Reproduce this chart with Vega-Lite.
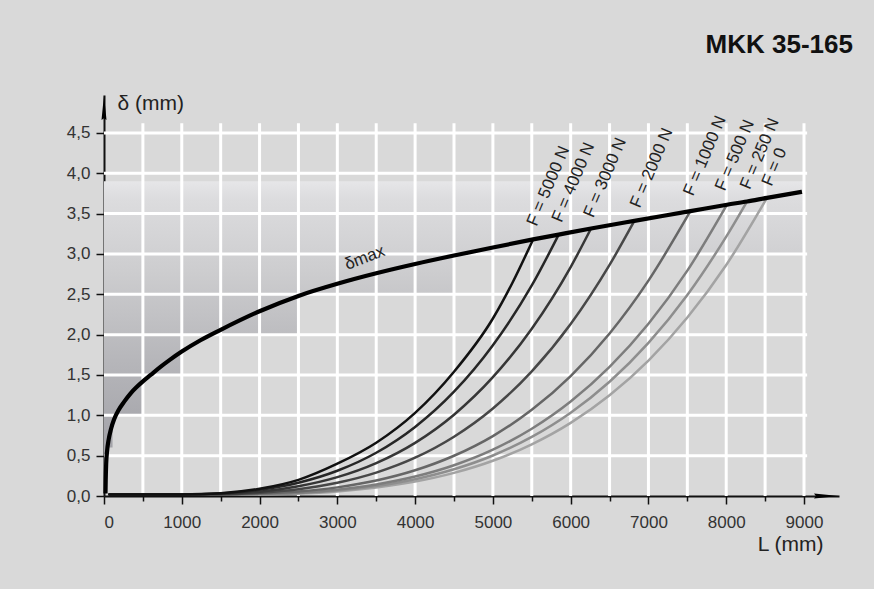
{
  "$schema": "https://vega.github.io/schema/vega-lite/v6.json",
  "width": 735,
  "height": 401,
  "autosize": "none",
  "padding": {"left": 104, "top": 95, "right": 35, "bottom": 93},
  "background": "#d9d9d9",
  "config": {"view": {"stroke": null}, "font": "Liberation Sans"},
  "title": {"text": "MKK 35-165", "anchor": "end", "fontSize": 26, "fontWeight": "bold", "color": "#111111", "offset": 34, "dx": 14, "font": "Liberation Sans"},
  "datasets": {
    "shade": [
      {"L": 0, "d": 3.9, "d2": 0.2},
      {"L": 40, "d": 3.9, "d2": 0.6},
      {"L": 110, "d": 3.9, "d2": 1.0},
      {"L": 500, "d": 3.9, "d2": 1.5},
      {"L": 1000, "d": 3.9, "d2": 2.0},
      {"L": 2500, "d": 3.9, "d2": 2.5},
      {"L": 4500, "d": 3.9, "d2": 3.0},
      {"L": 9000, "d": 3.9, "d2": 3.0}
    ],
    "gridv": [
      {"L": 500, "d": 0, "d2": 4.62}, {"L": 1000, "d": 0, "d2": 4.62}, {"L": 1500, "d": 0, "d2": 4.62},
      {"L": 2000, "d": 0, "d2": 4.62}, {"L": 2500, "d": 0, "d2": 4.62}, {"L": 3000, "d": 0, "d2": 4.62},
      {"L": 3500, "d": 0, "d2": 4.62}, {"L": 4000, "d": 0, "d2": 4.62}, {"L": 4500, "d": 0, "d2": 4.62},
      {"L": 5000, "d": 0, "d2": 4.62}, {"L": 5500, "d": 0, "d2": 4.62}, {"L": 6000, "d": 0, "d2": 4.62},
      {"L": 6500, "d": 0, "d2": 4.62}, {"L": 7000, "d": 0, "d2": 4.62}, {"L": 7500, "d": 0, "d2": 4.62},
      {"L": 8000, "d": 0, "d2": 4.62}, {"L": 8500, "d": 0, "d2": 4.62}, {"L": 9000, "d": 0, "d2": 4.62}
    ],
    "gridh": [
      {"L": 0, "L2": 9040, "d": 0.5}, {"L": 0, "L2": 9040, "d": 1.0}, {"L": 0, "L2": 9040, "d": 1.5},
      {"L": 0, "L2": 9040, "d": 2.0}, {"L": 0, "L2": 9040, "d": 2.5}, {"L": 0, "L2": 9040, "d": 3.0},
      {"L": 0, "L2": 9040, "d": 3.5}, {"L": 0, "L2": 9040, "d": 4.0}, {"L": 0, "L2": 9040, "d": 4.5}
    ],
    "curves": [
      {"F": "F = 0", "L": 70, "d": 0.02}, {"F": "F = 0", "L": 2000, "d": 0.02}, {"F": "F = 0", "L": 2500, "d": 0.03},
      {"F": "F = 0", "L": 3000, "d": 0.057}, {"F": "F = 0", "L": 3500, "d": 0.105}, {"F": "F = 0", "L": 4000, "d": 0.179},
      {"F": "F = 0", "L": 4500, "d": 0.287}, {"F": "F = 0", "L": 5000, "d": 0.437}, {"F": "F = 0", "L": 5500, "d": 0.64},
      {"F": "F = 0", "L": 6000, "d": 0.906}, {"F": "F = 0", "L": 6500, "d": 1.248}, {"F": "F = 0", "L": 7000, "d": 1.678},
      {"F": "F = 0", "L": 7500, "d": 2.212}, {"F": "F = 0", "L": 8000, "d": 2.863}, {"F": "F = 0", "L": 8524, "d": 3.695},

      {"F": "F = 250 N", "L": 70, "d": 0.02}, {"F": "F = 250 N", "L": 2000, "d": 0.022}, {"F": "F = 250 N", "L": 2500, "d": 0.035},
      {"F": "F = 250 N", "L": 3000, "d": 0.067}, {"F": "F = 250 N", "L": 3500, "d": 0.123}, {"F": "F = 250 N", "L": 4000, "d": 0.208},
      {"F": "F = 250 N", "L": 4500, "d": 0.331}, {"F": "F = 250 N", "L": 5000, "d": 0.502}, {"F": "F = 250 N", "L": 5500, "d": 0.732},
      {"F": "F = 250 N", "L": 6000, "d": 1.032}, {"F": "F = 250 N", "L": 6500, "d": 1.416}, {"F": "F = 250 N", "L": 7000, "d": 1.897},
      {"F": "F = 250 N", "L": 7500, "d": 2.491}, {"F": "F = 250 N", "L": 8000, "d": 3.215}, {"F": "F = 250 N", "L": 8267, "d": 3.65},

      {"F": "F = 500 N", "L": 70, "d": 0.02}, {"F": "F = 500 N", "L": 2000, "d": 0.025}, {"F": "F = 500 N", "L": 2500, "d": 0.04},
      {"F": "F = 500 N", "L": 3000, "d": 0.078}, {"F": "F = 500 N", "L": 3500, "d": 0.143}, {"F": "F = 500 N", "L": 4000, "d": 0.241},
      {"F": "F = 500 N", "L": 4500, "d": 0.381}, {"F": "F = 500 N", "L": 5000, "d": 0.574}, {"F": "F = 500 N", "L": 5500, "d": 0.833},
      {"F": "F = 500 N", "L": 6000, "d": 1.17}, {"F": "F = 500 N", "L": 6500, "d": 1.599}, {"F": "F = 500 N", "L": 7000, "d": 2.134},
      {"F": "F = 500 N", "L": 7500, "d": 2.793}, {"F": "F = 500 N", "L": 8010, "d": 3.61},

      {"F": "F = 1000 N", "L": 70, "d": 0.02}, {"F": "F = 1000 N", "L": 1500, "d": 0.02}, {"F": "F = 1000 N", "L": 2000, "d": 0.03},
      {"F": "F = 1000 N", "L": 2500, "d": 0.055}, {"F": "F = 1000 N", "L": 3000, "d": 0.107}, {"F": "F = 1000 N", "L": 3500, "d": 0.192},
      {"F": "F = 1000 N", "L": 4000, "d": 0.319}, {"F": "F = 1000 N", "L": 4500, "d": 0.499}, {"F": "F = 1000 N", "L": 5000, "d": 0.743},
      {"F": "F = 1000 N", "L": 5500, "d": 1.068}, {"F": "F = 1000 N", "L": 6000, "d": 1.487}, {"F": "F = 1000 N", "L": 6500, "d": 2.015},
      {"F": "F = 1000 N", "L": 7000, "d": 2.67}, {"F": "F = 1000 N", "L": 7539, "d": 3.53},

      {"F": "F = 2000 N", "L": 70, "d": 0.02}, {"F": "F = 2000 N", "L": 1500, "d": 0.022}, {"F": "F = 2000 N", "L": 2000, "d": 0.04},
      {"F": "F = 2000 N", "L": 2500, "d": 0.083}, {"F": "F = 2000 N", "L": 3000, "d": 0.164}, {"F": "F = 2000 N", "L": 3500, "d": 0.29},
      {"F": "F = 2000 N", "L": 4000, "d": 0.475}, {"F": "F = 2000 N", "L": 4500, "d": 0.735}, {"F": "F = 2000 N", "L": 5000, "d": 1.085},
      {"F": "F = 2000 N", "L": 5500, "d": 1.544}, {"F": "F = 2000 N", "L": 6000, "d": 2.131}, {"F": "F = 2000 N", "L": 6500, "d": 2.864},
      {"F": "F = 2000 N", "L": 6819, "d": 3.41},

      {"F": "F = 3000 N", "L": 70, "d": 0.02}, {"F": "F = 3000 N", "L": 1000, "d": 0.02}, {"F": "F = 3000 N", "L": 1500, "d": 0.025},
      {"F": "F = 3000 N", "L": 2000, "d": 0.054}, {"F": "F = 3000 N", "L": 2500, "d": 0.121}, {"F": "F = 3000 N", "L": 3000, "d": 0.234},
      {"F": "F = 3000 N", "L": 3500, "d": 0.408}, {"F": "F = 3000 N", "L": 4000, "d": 0.659}, {"F": "F = 3000 N", "L": 4500, "d": 1.008},
      {"F": "F = 3000 N", "L": 5000, "d": 1.473}, {"F": "F = 3000 N", "L": 5500, "d": 2.074}, {"F": "F = 3000 N", "L": 6000, "d": 2.838},
      {"F": "F = 3000 N", "L": 6262, "d": 3.315},

      {"F": "F = 4000 N", "L": 70, "d": 0.02}, {"F": "F = 4000 N", "L": 1000, "d": 0.02}, {"F": "F = 4000 N", "L": 1500, "d": 0.03},
      {"F": "F = 4000 N", "L": 2000, "d": 0.076}, {"F": "F = 4000 N", "L": 2500, "d": 0.165}, {"F": "F = 4000 N", "L": 3000, "d": 0.313},
      {"F": "F = 4000 N", "L": 3500, "d": 0.536}, {"F": "F = 4000 N", "L": 4000, "d": 0.856}, {"F": "F = 4000 N", "L": 4500, "d": 1.293},
      {"F": "F = 4000 N", "L": 5000, "d": 1.869}, {"F": "F = 4000 N", "L": 5500, "d": 2.609}, {"F": "F = 4000 N", "L": 5846, "d": 3.24},

      {"F": "F = 5000 N", "L": 70, "d": 0.02}, {"F": "F = 5000 N", "L": 1000, "d": 0.02}, {"F": "F = 5000 N", "L": 1500, "d": 0.035},
      {"F": "F = 5000 N", "L": 2000, "d": 0.09}, {"F": "F = 5000 N", "L": 2500, "d": 0.2}, {"F": "F = 5000 N", "L": 3000, "d": 0.4},
      {"F": "F = 5000 N", "L": 3500, "d": 0.66}, {"F": "F = 5000 N", "L": 4000, "d": 1.03}, {"F": "F = 5000 N", "L": 4500, "d": 1.54},
      {"F": "F = 5000 N", "L": 5000, "d": 2.2}, {"F": "F = 5000 N", "L": 5250, "d": 2.64}, {"F": "F = 5000 N", "L": 5517, "d": 3.18}
    ],
    "dmax": [
      {"L": 19, "d": 0.03}, {"L": 22, "d": 0.2}, {"L": 28, "d": 0.4}, {"L": 40, "d": 0.56}, {"L": 60, "d": 0.7},
      {"L": 90, "d": 0.83}, {"L": 130, "d": 0.95}, {"L": 190, "d": 1.07}, {"L": 260, "d": 1.17}, {"L": 340, "d": 1.27},
      {"L": 420, "d": 1.35}, {"L": 500, "d": 1.42}, {"L": 600, "d": 1.5}, {"L": 726, "d": 1.6}, {"L": 850, "d": 1.69},
      {"L": 1000, "d": 1.79}, {"L": 1240, "d": 1.93}, {"L": 1500, "d": 2.06}, {"L": 2000, "d": 2.29}, {"L": 2500, "d": 2.48},
      {"L": 3000, "d": 2.63}, {"L": 3500, "d": 2.76}, {"L": 4000, "d": 2.875}, {"L": 4500, "d": 2.98}, {"L": 5000, "d": 3.08},
      {"L": 5517, "d": 3.18}, {"L": 5846, "d": 3.24}, {"L": 6262, "d": 3.315}, {"L": 6819, "d": 3.41}, {"L": 7539, "d": 3.53},
      {"L": 8010, "d": 3.61}, {"L": 8267, "d": 3.65}, {"L": 8524, "d": 3.695}, {"L": 8974, "d": 3.77}
    ],
    "flabels": [
      {"L": 5560, "d": 3.335, "t": "F = 5000 N"},
      {"L": 5882, "d": 3.38, "t": "F = 4000 N"},
      {"L": 6289, "d": 3.44, "t": "F = 3000 N"},
      {"L": 6889, "d": 3.56, "t": "F = 2000 N"},
      {"L": 7574, "d": 3.71, "t": "F = 1000 N"},
      {"L": 7982, "d": 3.77, "t": "F = 500 N"},
      {"L": 8303, "d": 3.79, "t": "F = 250 N"},
      {"L": 8581, "d": 3.83, "t": "F = 0"}
    ],
    "arrows": [
      {"L": 0, "d": 4.97, "s": "M0,0L0.2,2L0,1.85L-0.2,2Z"},
      {"L": 9450, "d": 0, "s": "M0,0L-2,-0.2L-1.85,0L-2,0.2Z"}
    ]
  },
  "encoding": {
    "x": {
      "field": "L", "type": "quantitative",
      "scale": {"domain": [0, 9450], "nice": false, "zero": false},
      "axis": {
        "values": [0, 500, 1000, 1500, 2000, 2500, 3000, 3500, 4000, 4500, 5000, 5500, 6000, 6500, 7000, 7500, 8000, 8500, 9000],
        "labelExpr": "datum.value % 1000 === 0 ? format(datum.value, 'd') : ''",
        "grid": false,
        "domainColor": "#111111", "domainWidth": 2,
        "tickColor": "#111111", "tickWidth": 1.5,
        "tickSize": {"condition": {"test": "datum.value % 1000 !== 0", "value": 5}, "value": 8},
        "labelFontSize": 17, "labelColor": "#333333", "labelPadding": 10, "labelFont": "Liberation Sans",
        "title": "L (mm)", "titleX": 719, "titleY": 54, "titleAlign": "right", "titleBaseline": "alphabetic",
        "titleFontSize": 21, "titleFontWeight": "normal", "titleColor": "#222222", "titleFont": "Liberation Sans"
      }
    },
    "y": {
      "field": "d", "type": "quantitative",
      "scale": {"domain": [0, 4.97], "nice": false, "zero": false},
      "axis": {
        "values": [0, 0.5, 1, 1.5, 2, 2.5, 3, 3.5, 4, 4.5],
        "labelExpr": "replace(format(datum.value, '.1f'), '.', ',')",
        "grid": false,
        "domainColor": "#111111", "domainWidth": 2,
        "tickColor": "#111111", "tickWidth": 1.5, "tickSize": 8,
        "labelFontSize": 17, "labelColor": "#333333", "labelPadding": 6, "labelFont": "Liberation Sans",
        "title": "δ (mm)", "titleAngle": 0, "titleX": 13, "titleY": 14, "titleAlign": "left", "titleBaseline": "alphabetic",
        "titleFontSize": 21, "titleFontWeight": "normal", "titleColor": "#222222", "titleFont": "Liberation Sans"
      }
    }
  },
  "layer": [
    {
      "data": {"name": "shade"},
      "mark": {"type": "area", "interpolate": "step-after",
        "color": {"gradient": "linear", "x1": 0, "y1": 0, "x2": 0, "y2": 1,
          "stops": [
            {"offset": 0, "color": "#e6e6e8"},
            {"offset": 0.06, "color": "#dcdcde"},
            {"offset": 0.3, "color": "#cdcdcf"},
            {"offset": 0.6, "color": "#b6b6ba"},
            {"offset": 1, "color": "#9c9ca2"}
          ]}},
      "encoding": {"y2": {"field": "d2"}}
    },
    {
      "data": {"name": "gridv"},
      "mark": {"type": "rule", "color": "#ffffff", "strokeWidth": 3},
      "encoding": {"y2": {"field": "d2"}}
    },
    {
      "data": {"name": "gridh"},
      "mark": {"type": "rule", "color": "#ffffff", "strokeWidth": 3},
      "encoding": {"x2": {"field": "L2"}}
    },
    {
      "data": {"name": "curves"},
      "mark": {"type": "line", "interpolate": "monotone", "strokeWidth": 2.5, "strokeCap": "round"},
      "encoding": {
        "color": {"field": "F", "type": "nominal", "legend": null,
          "scale": {"domain": ["F = 0", "F = 250 N", "F = 500 N", "F = 1000 N", "F = 2000 N", "F = 3000 N", "F = 4000 N", "F = 5000 N"],
                    "range": ["#a3a3a3", "#8e8e8e", "#7d7d7d", "#666666", "#474747", "#363636", "#262626", "#111111"]}},
        "order": {"field": "L", "type": "quantitative"}
      }
    },
    {
      "data": {"name": "dmax"},
      "mark": {"type": "line", "interpolate": "monotone", "strokeWidth": 4.2, "color": "#000000"},
      "encoding": {}
    },
    {
      "data": {"name": "flabels"},
      "mark": {"type": "text", "angle": -67, "align": "left", "baseline": "alphabetic", "fontSize": 17, "color": "#222222", "font": "Liberation Sans"},
      "encoding": {"text": {"field": "t"}}
    },
    {
      "data": {"values": [{"L": 3126, "d": 2.8, "t": "δmax"}]},
      "mark": {"type": "text", "angle": -21, "align": "left", "baseline": "alphabetic", "fontSize": 17, "color": "#222222", "font": "Liberation Sans"},
      "encoding": {"text": {"field": "t"}}
    },
    {
      "data": {"name": "arrows"},
      "mark": {"type": "point", "filled": true, "color": "#000000", "size": 625, "opacity": 1, "clip": false},
      "encoding": {"shape": {"field": "s", "type": "nominal", "scale": null, "legend": null}}
    }
  ]
}
